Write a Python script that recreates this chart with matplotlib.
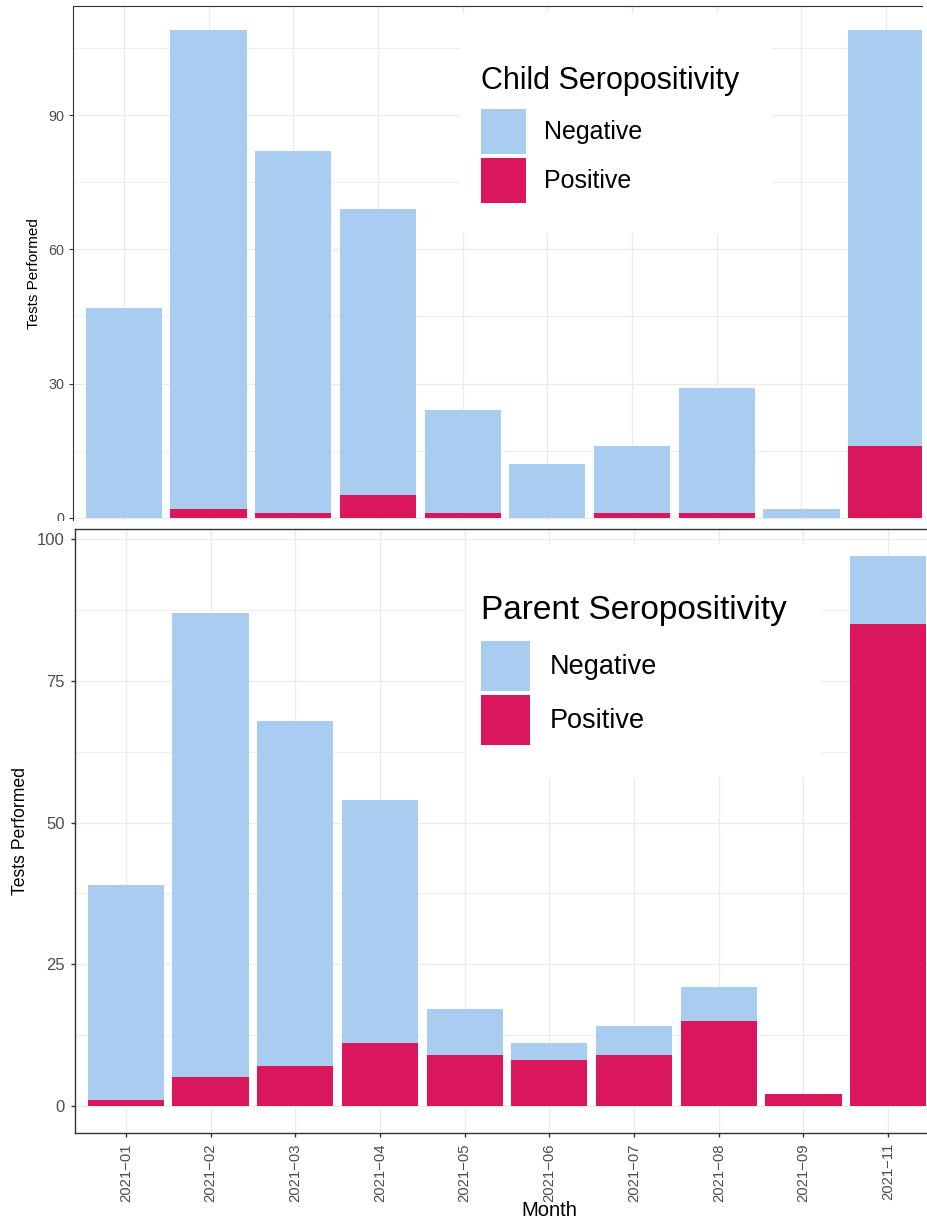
import matplotlib
matplotlib.use("Agg")
import matplotlib.pyplot as plt
from matplotlib.patches import Rectangle, Patch
import numpy as np

plt.rcParams["font.family"] = ["Liberation Sans", "DejaVu Sans"]

# ---- data -------------------------------------------------------------
months = ["2021-01", "2021-02", "2021-03", "2021-04", "2021-05",
          "2021-06", "2021-07", "2021-08", "2021-09", "2021-11"]
month_labels = [m.replace("-", "\u2212") for m in months]

child_negative = [47, 107, 81, 64, 23, 12, 15, 28, 2, 93]
child_positive = [0, 2, 1, 5, 1, 0, 1, 1, 0, 16]

parent_negative = [38, 82, 61, 43, 8, 3, 5, 6, 0, 12]
parent_positive = [1, 5, 7, 11, 9, 8, 9, 15, 2, 85]

status_labels = ["Negative", "Positive"]
status_colors = {"Negative": "#A8CDF0", "Positive": "#DA175C"}

# ---- figure geometry (pixels) -----------------------------------------
W, H = 927, 1220
fig = plt.figure(figsize=(W / 100, H / 100), dpi=100)


def fx(px):
    return px / W


def fy(py):
    return 1 - py / H


GRID = "#EBEBEB"
TICKC = "#4D4D4D"
SPINE = "#333333"
x = np.arange(len(months))


def stacked(ax, neg, pos):
    ax.bar(x, pos, width=0.9, color=status_colors["Positive"], zorder=2)
    ax.bar(x, neg, bottom=pos, width=0.9, color=status_colors["Negative"], zorder=2)
    total = max(n + p for n, p in zip(neg, pos))
    ax.set_ylim(-0.05 * total, 1.05 * total)
    ax.set_xticks(x)
    ax.set_axisbelow(True)
    ax.grid(True, which="major", color=GRID, linewidth=1.0)
    ax.grid(True, which="minor", axis="y", color=GRID, linewidth=0.6)
    ax.spines["right"].set_visible(False)


def add_legend(ax, title, anchor_px, fs, title_fs, key_w, key_h, title_gap_pt):
    handles = [Patch(facecolor=status_colors[s], edgecolor="none") for s in status_labels]
    # handle height so that the drawn key is key_h pixels tall
    kh = key_h / (fs * 100 / 72)
    hh = (kh - 0.245) / 0.65
    leg = ax.legend(handles, status_labels, title=title,
                    loc="upper left",
                    bbox_to_anchor=(fx(anchor_px[0]), fy(anchor_px[1])),
                    bbox_transform=fig.transFigure, frameon=False,
                    fontsize=fs, title_fontsize=title_fs, alignment="left",
                    borderpad=0, borderaxespad=0,
                    handlelength=key_w / (fs * 100 / 72), handleheight=hh,
                    labelspacing=0.15, handletextpad=0.72)
    leg._legend_box.sep = title_gap_pt
    leg.set_zorder(4)
    return leg


# ---- child panel --------------------------------------------------------
axc = fig.add_axes([fx(73), fy(542), fx(922 - 73), fy(6) - fy(542)], zorder=0)
stacked(axc, child_negative, child_positive)
axc.set_xlim(-0.6, -0.6 + (922 - 73) / 84.7)
axc.set_yticks([0, 30, 60, 90])
axc.set_yticks([15, 45, 75, 105], minor=True)
axc.tick_params(axis="y", which="major", length=3, width=0.8, color=SPINE,
                labelsize=10.4, labelcolor=TICKC, pad=3.5)
axc.tick_params(axis="y", which="minor", length=0)
axc.tick_params(axis="x", which="both", length=0, labelbottom=False)
for s in ("top", "left", "bottom"):
    axc.spines[s].set_color(SPINE)
    axc.spines[s].set_linewidth(0.8)
axc.set_ylabel("Tests Performed", fontsize=11, color="black")
axc.yaxis.set_label_coords((41 - 73) / (922 - 73), 0.5)

# legend background and legend
axc.add_patch(Rectangle((fx(460), fy(233)), fx(772 - 460), fy(13) - fy(233),
                        transform=fig.transFigure, facecolor="white",
                        edgecolor="none", zorder=3))
add_legend(axc, "Child Seropositivity", (481, 66), 18, 22, 45, 45, 9.4)

# cover strip where the parent panel sits
fig.patches.append(Rectangle((0, 0), 1, fy(521), transform=fig.transFigure,
                             facecolor="white", edgecolor="none", zorder=1))

# ---- parent panel -------------------------------------------------------
axp = fig.add_axes([fx(75), fy(1133), fx(864), fy(529) - fy(1133)], zorder=2)
stacked(axp, parent_negative, parent_positive)
axp.set_xlim(-0.6, 9.6)
axp.set_yticks([0, 25, 50, 75, 100])
axp.set_yticks([12.5, 37.5, 62.5, 87.5], minor=True)
axp.set_xticklabels(month_labels, rotation=90)
axp.tick_params(axis="y", which="major", length=3, width=1.0, color=SPINE,
                labelsize=12, labelcolor=TICKC, pad=4.5)
axp.tick_params(axis="y", which="minor", length=0)
axp.tick_params(axis="x", which="major", length=3, width=1.0, color=SPINE,
                labelsize=10.7, labelcolor=TICKC, pad=4.3)
for s in ("top", "left", "bottom"):
    axp.spines[s].set_color(SPINE)
    axp.spines[s].set_linewidth(1.0)
axp.set_ylabel("Tests Performed", fontsize=12.7, color="black")
axp.yaxis.set_label_coords((29 - 75) / 864, 0.5)
axp.set_xlabel("Month", fontsize=14.5, color="black", va="top")
axp.xaxis.set_label_coords((549.5 - 75) / 864, (1133 - 1201) / 604)

axp.add_patch(Rectangle((fx(467), fy(777)), fx(821 - 467), fy(544) - fy(777),
                        transform=fig.transFigure, facecolor="white",
                        edgecolor="none", zorder=3))
add_legend(axp, "Parent Seropositivity", (481, 595), 19.5, 24, 49, 50, 10.8)

fig.savefig("out.png", dpi=100)
